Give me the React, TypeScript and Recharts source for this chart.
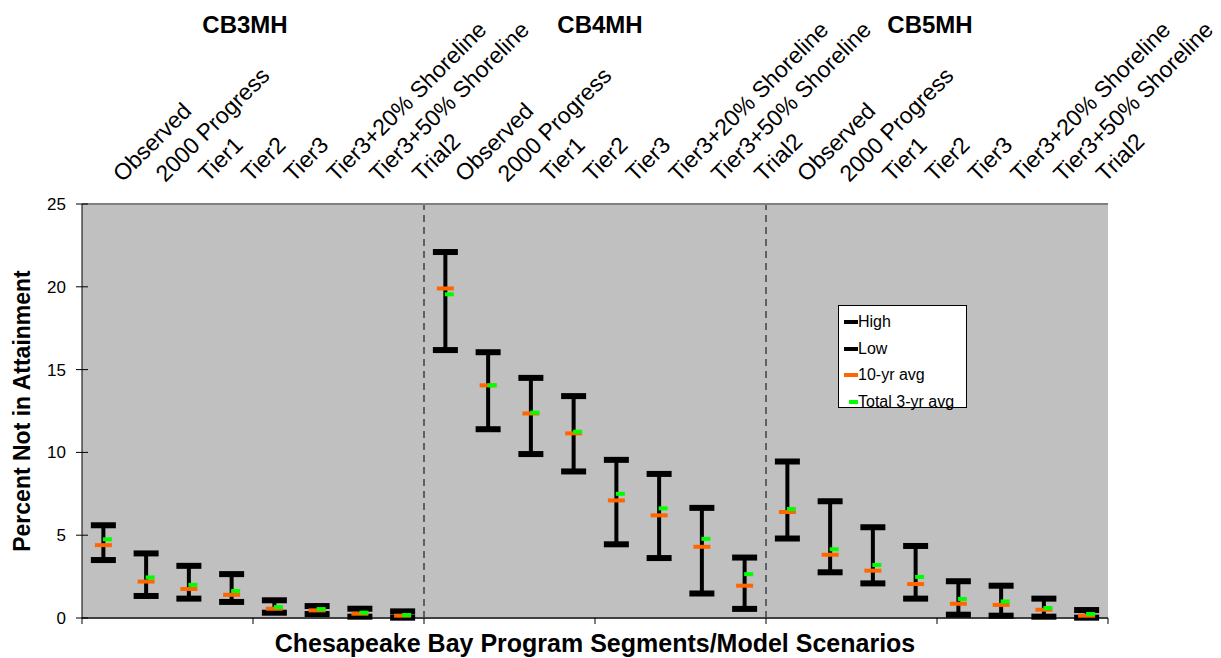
import { ComposedChart, Line, ErrorBar, XAxis, YAxis, CartesianGrid, ReferenceLine, Legend } from 'recharts';

const segments = ['CB3MH', 'CB4MH', 'CB5MH'];
const scenarios = ['Observed', '2000 Progress', 'Tier1', 'Tier2', 'Tier3', 'Tier3+20% Shoreline', 'Tier3+50% Shoreline', 'Trial2'];

const cb3High = [5.6, 3.9, 3.15, 2.65, 1.07, 0.72, 0.56, 0.4];
const cb3Low = [3.5, 1.33, 1.17, 0.97, 0.32, 0.24, 0.08, 0.02];
const cb3Avg10 = [4.4, 2.2, 1.75, 1.4, 0.56, 0.46, 0.26, 0.14];
const cb3Avg3 = [4.75, 2.45, 2.0, 1.63, 0.66, 0.54, 0.32, 0.18];

const cb4High = [22.1, 16.05, 14.5, 13.4, 9.55, 8.7, 6.65, 3.65];
const cb4Low = [16.18, 11.4, 9.9, 8.85, 4.45, 3.62, 1.48, 0.55];
const cb4Avg10 = [19.9, 14.05, 12.35, 11.15, 7.1, 6.2, 4.3, 1.95];
const cb4Avg3 = [19.55, 14.05, 12.4, 11.25, 7.5, 6.62, 4.78, 2.65];

const cb5High = [9.45, 7.05, 5.48, 4.35, 2.22, 1.95, 1.17, 0.48];
const cb5Low = [4.8, 2.76, 2.09, 1.17, 0.2, 0.14, 0.08, 0.02];
const cb5Avg10 = [6.4, 3.82, 2.86, 2.05, 0.86, 0.79, 0.5, 0.14];
const cb5Avg3 = [6.58, 4.15, 3.2, 2.48, 1.15, 1.0, 0.6, 0.24];

const yTicks = [0, 5, 10, 15, 20, 25];
const groupTicks = [0, 4, 8, 12, 16, 20, 24];

const highs = [cb3High, cb4High, cb5High];
const lows = [cb3Low, cb4Low, cb5Low];
const avg10s = [cb3Avg10, cb4Avg10, cb5Avg10];
const avg3s = [cb3Avg3, cb4Avg3, cb5Avg3];

const data = segments.flatMap((seg, s) =>
    scenarios.map((name, i) => ({
        x: s * scenarios.length + i + 0.5,
        name,
        seg,
        high: highs[s][i],
        low: lows[s][i],
        avg10: avg10s[s][i],
        avg3: avg3s[s][i],
        err: [0, highs[s][i] - lows[s][i]],
    }))
);
const topTicks = data.map((d) => d.x);

const FONT = '"Liberation Sans", Arial, sans-serif';

const capDot = (prefix: string) => (p: any) => (
    <rect key={`${prefix}-${p.index}`} x={p.cx - 12.5} y={p.cy - 3} width={25} height={6} fill="#000" />
);
const avgDot = (p: any) => (
    <rect key={`a10-${p.index}`} x={p.cx - 8.5} y={p.cy - 2} width={17} height={4} fill="#FF6600" />
);
const avg3Dot = (p: any) => (
    <rect key={`a3-${p.index}`} x={p.cx - 0.5} y={p.cy - 2} width={9} height={4} fill="#00FF00" />
);

const TopTick = (props: any) => {
    const { x, y, payload } = props;
    const d = data.find((r) => r.x === payload.value);
    const tx = x + 19;
    const ty = y - 21;
    return (
        <text x={tx} y={ty} transform={`rotate(-45 ${tx} ${ty})`} textAnchor="start" fontSize={23} fontFamily={FONT} fill="#000">
            {d ? d.name : ''}
        </text>
    );
};

const LeftTick = (props: any) => {
    const { x, y, payload } = props;
    return (
        <g>
            <line x1={x - 6} x2={x + 6} y1={y} y2={y} stroke="#000" />
            <text x={x - 16} y={y + 6} textAnchor="end" fontSize={17} fontFamily={FONT} fill="#000">
                {payload.value}
            </text>
        </g>
    );
};

const legendItems = [
    { label: 'High', color: '#000', w: 14, off: 0 },
    { label: 'Low', color: '#000', w: 14, off: 0 },
    { label: '10-yr avg', color: '#FF6600', w: 14, off: 0 },
    { label: 'Total 3-yr avg', color: '#00FF00', w: 9, off: 5 },
];

const LegendBox = () => (
    <div style={{ width: 129, height: 103, border: '1px solid #000', background: '#fff', fontFamily: FONT, fontSize: 16, paddingTop: 3, boxSizing: 'border-box' }}>
        {legendItems.map((it) => (
            <div key={it.label} style={{ height: 26.5, display: 'flex', alignItems: 'center' }}>
                <span style={{ display: 'inline-block', marginLeft: 5 + it.off, width: it.w, height: 4, background: it.color }} />
                <span style={{ marginLeft: 0 }}>{it.label}</span>
            </div>
        ))}
    </div>
);

const groupTitles = [
    { label: segments[0], cx: 245 },
    { label: segments[1], cx: 600 },
    { label: segments[2], cx: 930 },
];

export default function App() {
    return (
        <div style={{ position: 'absolute', left: 0, top: 0, width: 1221, height: 658, background: '#fff' }}>
            {groupTitles.map((g) => (
                <div key={g.label} style={{ position: 'absolute', left: g.cx - 100, width: 200, top: 13, textAlign: 'center', fontFamily: FONT, fontWeight: 'bold', fontSize: 24, lineHeight: '24px' }}>
                    {g.label}
                </div>
            ))}
            <ComposedChart width={1221} height={658} data={data} margin={{ top: 0, right: 113, bottom: 0, left: 0 }}>
                <CartesianGrid horizontal={false} vertical={false} fill="#C0C0C0" fillOpacity={1} stroke="none" />
                <XAxis
                    dataKey="x"
                    type="number"
                    domain={[0, 24]}
                    ticks={groupTicks}
                    interval={0}
                    height={40}
                    tickSize={6}
                    tickFormatter={() => ''}
                    axisLine={{ stroke: '#404040', strokeWidth: 2 }}
                    tickLine={{ stroke: '#000' }}
                    label={{
                        content: (p: any) => (
                            <text x={p.viewBox.x + p.viewBox.width / 2} y={p.viewBox.y + p.viewBox.height - 6} textAnchor="middle" fontSize={25} fontWeight="bold" fontFamily={FONT} fill="#000">
                                Chesapeake Bay Program Segments/Model Scenarios
                            </text>
                        ),
                    }}
                />
                <XAxis
                    xAxisId="top"
                    dataKey="x"
                    type="number"
                    orientation="top"
                    domain={[0, 24]}
                    ticks={topTicks}
                    interval={0}
                    height={204}
                    tickSize={0}
                    tickMargin={0}
                    tickLine={false}
                    tick={<TopTick />}
                    axisLine={{ stroke: '#808080', strokeWidth: 2 }}
                />
                <YAxis
                    type="number"
                    domain={[0, 25]}
                    ticks={yTicks}
                    interval={0}
                    width={82}
                    tickSize={0}
                    tickMargin={0}
                    tickLine={false}
                    tick={<LeftTick />}
                    axisLine={{ stroke: '#000' }}
                    label={{
                        content: (p: any) => {
                            const tx = p.viewBox.x + 22;
                            const ty = p.viewBox.y + p.viewBox.height / 2;
                            return (
                                <text x={tx} y={ty} transform={`rotate(-90 ${tx} ${ty})`} textAnchor="middle" dominantBaseline="central" fontSize={23} fontWeight="bold" fontFamily={FONT} fill="#000">
                                    Percent Not in Attainment
                                </text>
                            );
                        },
                    }}
                />
                <YAxis yAxisId="right" orientation="right" domain={[0, 25]} width={0} tick={false} tickLine={false} axisLine={{ stroke: '#808080', strokeWidth: 2 }} />
                <ReferenceLine x={8} stroke="#000" strokeDasharray="7 5" />
                <ReferenceLine x={16} stroke="#000" strokeDasharray="7 5" />
                <Line dataKey="low" stroke="none" dot={capDot('lo')} activeDot={false} isAnimationActive={false} legendType="none">
                    <ErrorBar dataKey="err" width={0} strokeWidth={4} stroke="#000" direction="y" isAnimationActive={false} />
                </Line>
                <Line dataKey="high" stroke="none" dot={capDot('hi')} activeDot={false} isAnimationActive={false} legendType="none" />
                <Line dataKey="avg10" stroke="none" dot={avgDot} activeDot={false} isAnimationActive={false} legendType="none" />
                <Line dataKey="avg3" stroke="none" dot={avg3Dot} activeDot={false} isAnimationActive={false} legendType="none" />
                <Legend
                    layout="vertical"
                    align="center"
                    verticalAlign="middle"
                    content={<LegendBox />}
                    wrapperStyle={{ position: 'absolute', left: 838, top: 305, width: 129, height: 103 }}
                />
            </ComposedChart>
        </div>
    );
}
